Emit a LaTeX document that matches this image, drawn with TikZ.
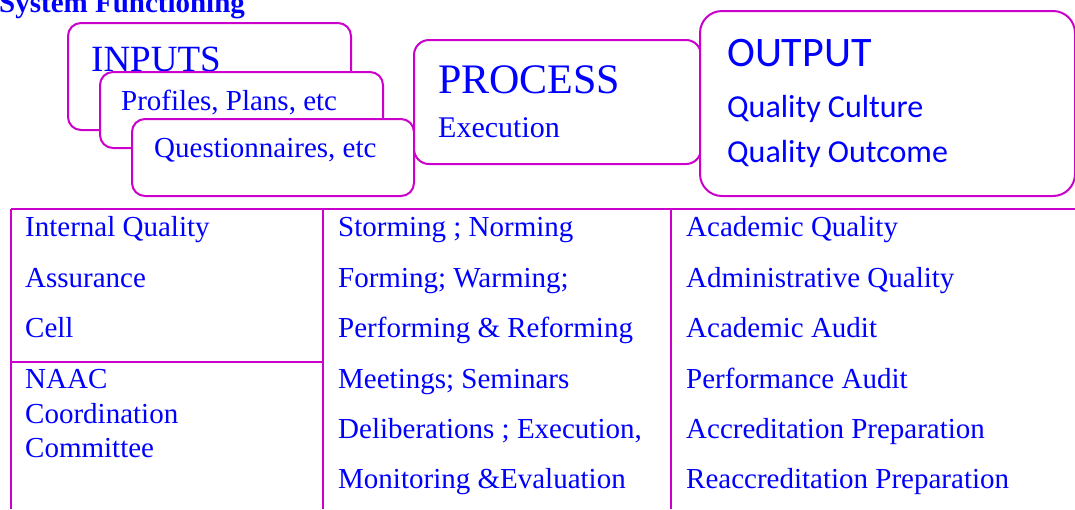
\documentclass[tikz,border=0pt]{standalone}
\usepackage{fontspec}
\setmainfont{Liberation Serif}
\newfontfamily\outfont{Carlito}
\definecolor{boxline}{RGB}{204,0,204}
\definecolor{textblue}{RGB}{0,0,255}

\begin{document}
\begin{tikzpicture}[x=1pt, y=-1pt,
    stack box/.style={draw=boxline, line width=2pt, fill=white,
                      inner sep=0pt, anchor=north west},
    box text/.style={text=textblue, anchor=base west, inner sep=0pt},
    cell text/.style={text=textblue, anchor=base west, inner sep=0pt,
                      font=\fontsize{29}{34}\selectfont},
    grid line/.style={draw=boxline, line width=2pt}]
    \useasboundingbox (0,0) rectangle (1075,509);

    % heading, cut by the page edge
    \node[box text, font=\fontsize{29}{34}\selectfont\bfseries] (title) at (-1,12.5) {System Functioning};

    % stacked input cards
    \node[stack box, rounded corners=13pt, minimum width=283pt, minimum height=107pt] (in)  at (67,22)  {};
    \node[box text, font=\fontsize{37}{40}\selectfont] (intxt) at (91,71) {INPUTS};
    \node[stack box, rounded corners=13pt, minimum width=283pt, minimum height=76pt]  (pro) at (99,71)  {};
    \node[box text, font=\fontsize{29}{34}\selectfont] (protxt) at (121,110) {Profiles, Plans, etc};
    \node[stack box, rounded corners=13pt, minimum width=282pt, minimum height=77pt]  (que) at (131,118) {};
    \node[box text, font=\fontsize{29}{34}\selectfont] (quetxt) at (154,157) {Questionnaires, etc};

    % process card
    \node[stack box, rounded corners=15pt, minimum width=287pt, minimum height=124pt] (proc) at (413,39) {};
    \node[box text, font=\fontsize{42}{46}\selectfont] (proctxt) at (438,93)  {PROCESS};
    \node[box text, font=\fontsize{30}{34}\selectfont] (exetxt)  at (438,137) {Execution};

    % output card
    \node[stack box, rounded corners=22pt, minimum width=375pt, minimum height=185pt] (out) at (699,10) {};
    \node[box text, font=\outfont\fontsize{42}{46}\selectfont] (outtxt) at (727,66)  {OUTPUT};
    \node[box text, font=\outfont\fontsize{32}{36}\selectfont] (cultxt) at (727,117) {Quality Culture};
    \node[box text, font=\outfont\fontsize{32}{36}\selectfont] (outcom) at (727,162) {Quality Outcome};

    % table frame
    \coordinate (t1) at (11,209);   \coordinate (b1) at (11,509);
    \coordinate (t2) at (323,209);  \coordinate (b2) at (323,509);
    \coordinate (t3) at (671,209);  \coordinate (b3) at (671,509);
    \coordinate (t4) at (1075,209);
    \coordinate (m1) at (11,362);   \coordinate (m2) at (323,362);
    \draw[grid line] (t1) -- (t4);
    \draw[grid line] (t1) -- (b1);
    \draw[grid line] (t2) -- (b2);
    \draw[grid line] (t3) -- (b3);
    \draw[grid line] (m1) -- (m2);

    % first column
    \node[cell text] (iq1) at (25,236) {Internal Quality};
    \node[cell text] (iq2) at (25,287) {Assurance};
    \node[cell text] (iq3) at (25,337) {Cell};
    \node[cell text] (nc1) at (25,388) {NAAC};
    \node[cell text] (nc2) at (25,423) {Coordination};
    \node[cell text] (nc3) at (25,457) {Committee};

    % second column
    \node[cell text] (pr1) at (338,236) {Storming ; Norming};
    \node[cell text] (pr2) at (338,287) {Forming; Warming;};
    \node[cell text] (pr3) at (338,337) {Performing \& Reforming};
    \node[cell text] (pr4) at (338,388) {Meetings; Seminars};
    \node[cell text] (pr5) at (338,438) {Deliberations ; Execution,};
    \node[cell text] (pr6) at (338,488) {Monitoring \&Evaluation};

    % third column
    \node[cell text] (ou1) at (686,236) {Academic Quality};
    \node[cell text] (ou2) at (686,287) {Administrative Quality};
    \node[cell text] (ou3) at (686,337) {Academic Audit};
    \node[cell text] (ou4) at (686,388) {Performance Audit};
    \node[cell text] (ou5) at (686,438) {Accreditation Preparation};
    \node[cell text] (ou6) at (686,488) {Reaccreditation Preparation};
\end{tikzpicture}
\end{document}
